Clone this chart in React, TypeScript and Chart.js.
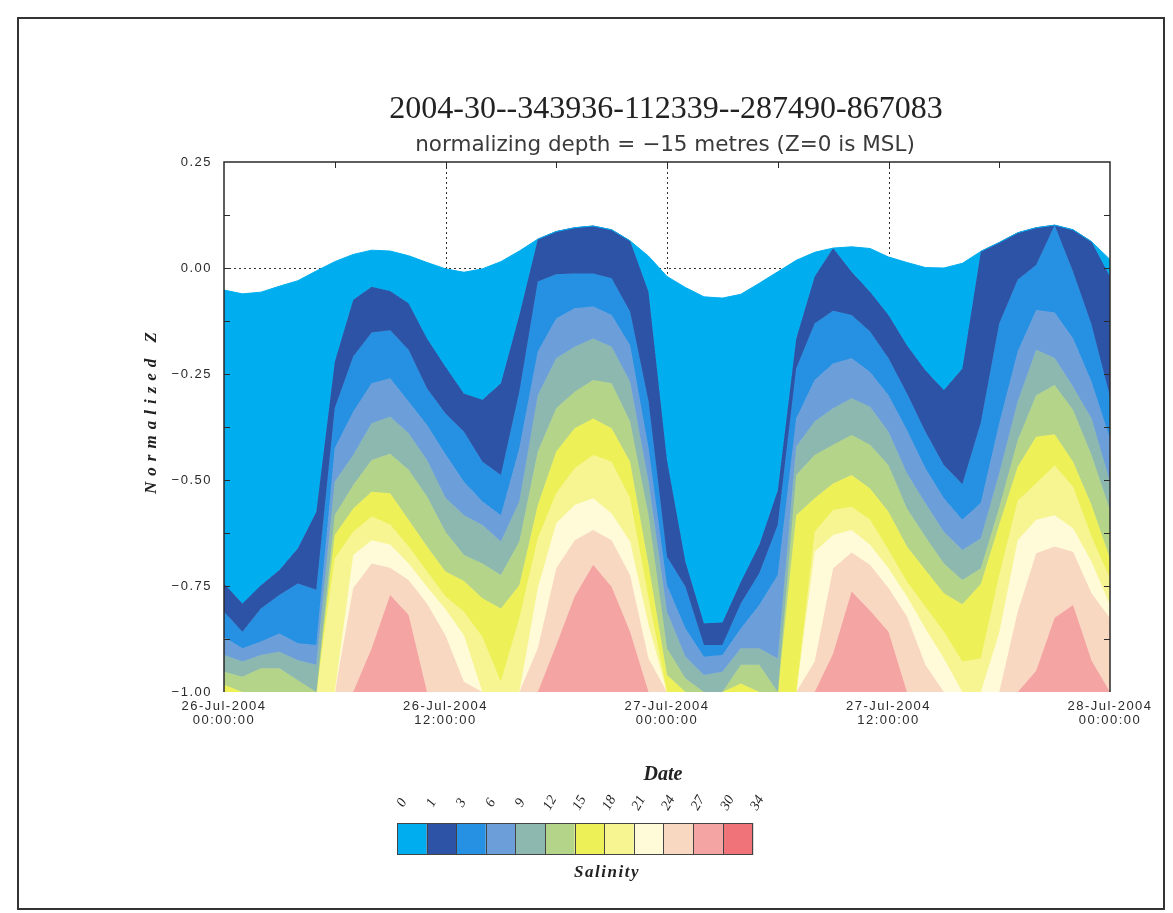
import { useEffect, useRef } from 'react';
import { Chart, registerables } from 'chart.js';

Chart.register(...registerables);

// ---------- data ----------
// time axis: hours since 26-Jul-2004 00:00:00
const hours = [0, 1, 2, 3, 4, 5, 6, 7, 8, 9, 10, 11, 12, 13, 14, 15, 16, 17, 18, 19, 20, 21, 22, 23, 24,
  25, 26, 27, 28, 29, 30, 31, 32, 33, 34, 35, 36, 37, 38, 39, 40, 41, 42, 43, 44, 45, 46, 47, 48];

// water surface (top of the coloured field), normalized Z
const surface = [-0.052, -0.061, -0.057, -0.043, -0.030, -0.007, 0.015, 0.032, 0.042, 0.040, 0.029, 0.013, -0.002,
  -0.010, -0.002, 0.015, 0.040, 0.068, 0.086, 0.095, 0.099, 0.090, 0.064, 0.028, -0.020,
  -0.046, -0.068, -0.071, -0.062, -0.036, -0.009, 0.018, 0.037, 0.047, 0.050, 0.046, 0.026,
  0.013, 0.001, 0.000, 0.011, 0.039, 0.060, 0.083, 0.095, 0.101, 0.090, 0.062, 0.020];

// depth of each salinity contour (top of the band) -- 1, 3, 6, 9, 12, 15, 18, 21, 24, 27
const iso1 = [-0.744, -0.791, -0.748, -0.712, -0.661, -0.575, -0.221, -0.075, -0.044, -0.054, -0.083, -0.166, -0.233,
  -0.296, -0.311, -0.272, -0.111, 0.068, 0.086, 0.095, 0.099, 0.090, 0.064, -0.056, -0.453,
  -0.693, -0.838, -0.836, -0.740, -0.653, -0.524, -0.166, -0.020, 0.047, -0.009, -0.056, -0.111,
  -0.182, -0.241, -0.288, -0.237, 0.039, 0.060, 0.083, 0.095, 0.101, 0.090, 0.062, -0.020];
const iso3 = [-0.811, -0.858, -0.803, -0.771, -0.744, -0.759, -0.331, -0.209, -0.152, -0.147, -0.193, -0.284, -0.343,
  -0.386, -0.457, -0.488, -0.292, -0.032, -0.015, -0.013, -0.013, -0.024, -0.103, -0.315, -0.681,
  -0.752, -0.889, -0.889, -0.791, -0.720, -0.606, -0.237, -0.131, -0.101, -0.111, -0.150, -0.213,
  -0.296, -0.386, -0.465, -0.510, -0.365, -0.131, -0.028, 0.007, 0.101, -0.009, -0.134, -0.303];
const iso6 = [-0.870, -0.897, -0.881, -0.862, -0.885, -0.889, -0.425, -0.339, -0.272, -0.260, -0.315, -0.370, -0.439,
  -0.504, -0.551, -0.583, -0.425, -0.197, -0.119, -0.095, -0.091, -0.111, -0.182, -0.425, -0.748,
  -0.850, -0.917, -0.913, -0.850, -0.795, -0.724, -0.355, -0.264, -0.225, -0.213, -0.245, -0.300,
  -0.382, -0.472, -0.543, -0.594, -0.554, -0.366, -0.197, -0.099, -0.105, -0.166, -0.268, -0.402];
const iso9 = [-0.913, -0.928, -0.913, -0.905, -0.925, -0.936, -0.504, -0.441, -0.366, -0.351, -0.390, -0.453, -0.542,
  -0.583, -0.606, -0.645, -0.551, -0.300, -0.213, -0.186, -0.166, -0.186, -0.268, -0.504, -0.811,
  -0.917, -0.960, -0.952, -0.897, -0.897, -0.921, -0.421, -0.362, -0.331, -0.307, -0.327, -0.386,
  -0.484, -0.555, -0.622, -0.665, -0.638, -0.484, -0.315, -0.193, -0.212, -0.280, -0.355, -0.504];
const iso12 = [-0.952, -0.964, -0.944, -0.944, -0.972, -1.0, -0.583, -0.512, -0.453, -0.438, -0.476, -0.539, -0.622,
  -0.677, -0.697, -0.724, -0.645, -0.433, -0.331, -0.292, -0.264, -0.272, -0.362, -0.583, -0.897,
  -0.968, -1.0, -1.0, -0.936, -0.936, -1.0, -0.488, -0.441, -0.417, -0.394, -0.417, -0.465,
  -0.567, -0.634, -0.697, -0.736, -0.709, -0.565, -0.406, -0.300, -0.276, -0.335, -0.441, -0.571];
const iso15 = [-0.983, -1.0, -1.0, -1.0, -1.0, -1.0, -0.630, -0.567, -0.528, -0.531, -0.594, -0.657, -0.716,
  -0.738, -0.779, -0.803, -0.748, -0.559, -0.433, -0.378, -0.355, -0.378, -0.457, -0.700, -0.960,
  -1.0, -1.0, -1.0, -0.980, -1.0, -1.0, -0.583, -0.543, -0.508, -0.488, -0.520, -0.575,
  -0.657, -0.712, -0.767, -0.793, -0.745, -0.605, -0.469, -0.398, -0.392, -0.457, -0.559, -0.685];
const iso18 = [-1.0, -1.0, -1.0, -1.0, -1.0, -1.0, -0.685, -0.622, -0.586, -0.605, -0.657, -0.716, -0.775,
  -0.811, -0.870, -0.976, -0.826, -0.638, -0.531, -0.472, -0.441, -0.457, -0.543, -0.779, -1.0,
  -1.0, -1.0, -1.0, -1.0, -1.0, -1.0, -1.0, -0.622, -0.571, -0.563, -0.594, -0.665,
  -0.740, -0.799, -0.858, -0.928, -0.921, -0.724, -0.549, -0.508, -0.466, -0.516, -0.634, -0.732];
const iso21 = [-1.0, -1.0, -1.0, -1.0, -1.0, -1.0, -1.0, -0.677, -0.642, -0.652, -0.697, -0.752, -0.805,
  -0.866, -1.0, -1.0, -1.0, -0.755, -0.602, -0.559, -0.543, -0.579, -0.645, -0.842, -1.0,
  -1.0, -1.0, -1.0, -1.0, -1.0, -1.0, -1.0, -0.669, -0.630, -0.618, -0.653, -0.708,
  -0.775, -0.850, -0.921, -1.0, -1.0, -0.860, -0.642, -0.594, -0.583, -0.614, -0.693, -0.795];
const iso24 = [-1.0, -1.0, -1.0, -1.0, -1.0, -1.0, -1.0, -0.755, -0.697, -0.707, -0.736, -0.791, -0.867,
  -0.976, -1.0, -1.0, -1.0, -0.897, -0.708, -0.642, -0.618, -0.642, -0.724, -0.921, -1.0,
  -1.0, -1.0, -1.0, -1.0, -1.0, -1.0, -1.0, -0.928, -0.708, -0.671, -0.700, -0.755,
  -0.822, -0.936, -1.0, -1.0, -1.0, -1.0, -0.811, -0.673, -0.657, -0.669, -0.767, -0.826];
const iso27 = [-1.0, -1.0, -1.0, -1.0, -1.0, -1.0, -1.0, -1.0, -0.897, -0.771, -0.818, -1.0, -1.0,
  -1.0, -1.0, -1.0, -1.0, -1.0, -0.889, -0.774, -0.700, -0.752, -0.858, -1.0, -1.0,
  -1.0, -1.0, -1.0, -1.0, -1.0, -1.0, -1.0, -1.0, -0.909, -0.763, -0.808, -0.858,
  -1.0, -1.0, -1.0, -1.0, -1.0, -1.0, -1.0, -0.950, -0.825, -0.795, -0.926, -1.0];

// colour bar
const salinityLevels = ['0', '1', '3', '6', '9', '12', '15', '18', '21', '24', '27', '30', '34'];
const bandColors = ['#00AEEF', '#2D53A6', '#2690E2', '#6C9FD9', '#8CB8AF', '#B4D48A', '#EEF058',
  '#F6F592', '#FFFBD8', '#F9D8C2', '#F4A4A2', '#F07379'];

// axes
const xTickHours = [0, 12, 24, 36, 48];
const xTickDates = ['26-Jul-2004', '26-Jul-2004', '27-Jul-2004', '27-Jul-2004', '28-Jul-2004'];
const xTickTimes = ['00:00:00', '12:00:00', '00:00:00', '12:00:00', '00:00:00'];
const yTickValues = [-1, -0.75, -0.5, -0.25, 0, 0.25];
const yTickLabels = ['\u22121.00', '\u22120.75', '\u22120.50', '\u22120.25', '0.00', '0.25'];

const titleText = '2004-30--343936-112339--287490-867083';
const subtitleText = 'normalizing depth = \u221215 metres (Z=0 is MSL)';

const W = 1173;
const H = 913;

const decor = {
  id: 'decor',
  beforeDraw(chart: any) {
    // wide letter spacing of the original plotting fonts (used by the tick labels)
    (chart.ctx as any).letterSpacing = '1.5px';
  },
  beforeDatasetsDraw(chart: any) {
    const { ctx, chartArea: a, scales } = chart;
    const x = scales.x;
    const y = scales.y;
    ctx.save();
    ctx.strokeStyle = '#333';
    ctx.lineWidth = 1;
    ctx.setLineDash([2, 3]);
    [12, 24, 36].forEach((h) => {
      const px = Math.round(x.getPixelForValue(h)) + 0.5;
      ctx.beginPath();
      ctx.moveTo(px, a.top);
      ctx.lineTo(px, a.bottom);
      ctx.stroke();
    });
    const py = Math.round(y.getPixelForValue(0)) + 0.5;
    ctx.beginPath();
    ctx.moveTo(a.left, py);
    ctx.lineTo(a.right, py);
    ctx.stroke();
    ctx.restore();
  },
  afterDatasetsDraw(chart: any) {
    const { ctx, chartArea: a, scales } = chart;
    const x = scales.x;
    const y = scales.y;
    ctx.save();
    ctx.strokeStyle = '#2a2a2a';
    ctx.lineWidth = 1.5;
    ctx.beginPath();
    ctx.moveTo(a.left, a.bottom);
    ctx.lineTo(a.left, a.top);
    ctx.lineTo(a.right, a.top);
    ctx.lineTo(a.right, a.bottom);
    ctx.stroke();
    ctx.lineWidth = 1;
    // inward minor ticks
    for (let v = -0.875; v < 0.25; v += 0.125) {
      const py = Math.round(y.getPixelForValue(v)) + 0.5;
      ctx.beginPath();
      ctx.moveTo(a.left, py);
      ctx.lineTo(a.left + 6, py);
      ctx.moveTo(a.right, py);
      ctx.lineTo(a.right - 6, py);
      ctx.stroke();
    }
    for (let h = 6; h < 48; h += 6) {
      const px = Math.round(x.getPixelForValue(h)) + 0.5;
      ctx.beginPath();
      ctx.moveTo(px, a.top);
      ctx.lineTo(px, a.top + 6);
      ctx.stroke();
    }
    ctx.restore();
  },
  afterDraw(chart: any) {
    const { ctx } = chart;
    ctx.save();
    (ctx as any).letterSpacing = '0px';
    // page frame
    ctx.strokeStyle = '#333';
    ctx.lineWidth = 2;
    ctx.strokeRect(18, 18, 1146, 891);

    ctx.fillStyle = '#222';
    ctx.textAlign = 'center';
    ctx.textBaseline = 'alphabetic';
    ctx.font = '32px "Liberation Serif", serif';
    ctx.fillText(titleText, 666, 118);
    ctx.fillStyle = '#3a3a3a';
    ctx.font = '21.5px "DejaVu Sans", sans-serif';
    ctx.fillText(subtitleText, 665, 151);

    // y axis title
    ctx.fillStyle = '#222';
    ctx.save();
    ctx.translate(156, 413);
    ctx.rotate(-Math.PI / 2);
    ctx.font = 'italic bold 17px "Liberation Serif", serif';
    (ctx as any).letterSpacing = '6px';
    ctx.fillText('Normalized Z', 3, 0);
    ctx.restore();

    // x axis title
    ctx.font = 'italic bold 20px "Liberation Serif", serif';
    ctx.fillText('Date', 663, 780);

    // colour bar
    const x0 = 397;
    const bw = 29.6;
    const top = 823;
    const bh = 31;
    for (let i = 0; i < bandColors.length; i++) {
      ctx.fillStyle = bandColors[i];
      ctx.fillRect(x0 + i * bw, top, bw, bh);
    }
    ctx.strokeStyle = '#444';
    ctx.lineWidth = 1;
    for (let i = 0; i <= bandColors.length; i++) {
      const px = Math.round(x0 + i * bw) + 0.5;
      ctx.beginPath();
      ctx.moveTo(px, top);
      ctx.lineTo(px, top + bh);
      ctx.stroke();
    }
    ctx.strokeRect(x0 + 0.5, top + 0.5, bw * bandColors.length, bh);
    ctx.fillStyle = '#222';
    ctx.font = 'italic 14px "Liberation Serif", serif';
    salinityLevels.forEach((lab, i) => {
      ctx.save();
      ctx.translate(x0 + i * bw + 5, 803);
      ctx.rotate(-Math.PI / 3);
      ctx.textBaseline = 'middle';
      ctx.fillText(lab, 0, 0);
      ctx.restore();
    });
    ctx.font = 'italic bold 17px "Liberation Serif", serif';
    (ctx as any).letterSpacing = '1.5px';
    ctx.fillText('Salinity', 607, 877);
    ctx.restore();
  },
};

export default function App() {
  const ref = useRef<HTMLCanvasElement>(null);
  useEffect(() => {
    const canvas = ref.current;
    if (!canvas) return;
    const contours = [surface, iso1, iso3, iso6, iso9, iso12, iso15, iso18, iso21, iso24, iso27];
    const datasets = contours.map((arr, i) => ({
      label: `Salinity ${salinityLevels[i]}\u2013${salinityLevels[i + 1]}`,
      data: hours.map((h, j) => ({ x: h, y: arr[j] })),
      fill: i < contours.length - 1 ? '+1' : 'start',
      backgroundColor: bandColors[i],
      borderColor: bandColors[i],
      borderWidth: 1,
      pointRadius: 0,
      tension: 0,
    }));
    const chart = new Chart(canvas, {
      type: 'line',
      data: { datasets } as any,
      options: {
        responsive: false,
        animation: false,
        devicePixelRatio: 1,
        layout: { padding: { top: 162, left: 0, right: 63, bottom: 0 } },
        plugins: {
          legend: { display: false },
          tooltip: { enabled: false },
          title: { display: false },
        },
        scales: {
          x: {
            type: 'linear',
            min: 0,
            max: 48,
            grid: { display: false, drawTicks: false },
            border: { display: false },
            ticks: {
              stepSize: 12,
              autoSkip: false,
              maxRotation: 0,
              padding: 8,
              color: '#2a2a2a',
              font: { family: '"Liberation Sans", sans-serif', size: 13, lineHeight: 1.05 },
              callback: (v: any) => {
                const i = xTickHours.indexOf(Number(v));
                return i >= 0 ? [xTickDates[i], xTickTimes[i]] : '';
              },
            },
            afterFit: (s: any) => {
              s.height = 221;
            },
          },
          y: {
            type: 'linear',
            min: -1,
            max: 0.25,
            grid: { display: false, drawTicks: false },
            border: { display: false },
            ticks: {
              stepSize: 0.25,
              padding: 12,
              color: '#2a2a2a',
              font: { family: '"Liberation Sans", sans-serif', size: 13 },
              callback: (v: any) => {
                const i = yTickValues.findIndex((t) => Math.abs(t - Number(v)) < 1e-6);
                return i >= 0 ? yTickLabels[i] : '';
              },
            },
            afterFit: (s: any) => {
              s.width = 224;
            },
          },
        },
      } as any,
      plugins: [decor],
    });
    return () => chart.destroy();
  }, []);
  return (
    <div style={{ position: 'absolute', left: 0, top: 0, width: W, height: H, background: '#fff' }}>
      <canvas ref={ref} width={W} height={H} style={{ width: W, height: H, display: 'block' }} />
    </div>
  );
}
